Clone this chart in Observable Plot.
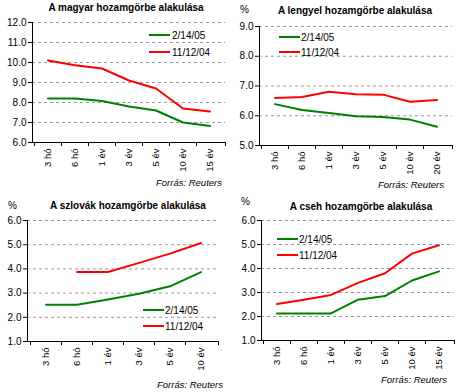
<!DOCTYPE html>
<html><head><meta charset="utf-8">
<script src="https://cdn.jsdelivr.net/npm/d3@7"></script>
<script src="https://cdn.jsdelivr.net/npm/@observablehq/plot@0.6"></script>
<style>
body{margin:0;background:#fff;}
#wrap{position:relative;width:458px;height:392px;overflow:hidden;}
.panel{position:absolute;width:229px;height:196px;}
</style></head><body><div id="wrap"></div>
<script>
// Series labels
const seriesNames = ["2/14/05", "11/12/04"];
const seriesColors = ["#008000", "#ff0000"];

// Hungary
const huTitle = "A magyar hozamgörbe alakulása";
const huCats = ["3 hó", "6 hó", "1 év", "3 év", "5 év", "10 év", "15 év"];
const hu0214 = [8.2, 8.2, 8.08, 7.8, 7.6, 7.0, 6.82];
const hu1112 = [10.1, 9.86, 9.7, 9.1, 8.7, 7.7, 7.55];
const huTicks = [6, 7, 8, 9, 10, 11, 12];

// Poland
const plTitle = "A lengyel hozamgörbe alakulása";
const plCats = ["3 hó", "6 hó", "1 év", "3 év", "5 év", "10 év", "20 év"];
const pl0214 = [6.39, 6.19, 6.09, 5.98, 5.96, 5.87, 5.63];
const pl1112 = [6.6, 6.63, 6.81, 6.72, 6.71, 6.47, 6.53];
const plTicks = [5, 6, 7, 8, 9];

// Slovakia
const skTitle = "A szlovák hozamgörbe alakulása";
const skCats = ["3 hó", "6 hó", "1 év", "3 év", "5 év", "10 év"];
const sk0214 = [2.52, 2.52, 2.74, 2.97, 3.28, 3.87];
const sk1112 = [null, 3.87, 3.87, 4.25, 4.63, 5.07];
const skTicks = [1, 2, 3, 4, 5, 6];

// Czech
const czTitle = "A cseh hozamgörbe alakulása";
const czCats = ["3 hó", "6 hó", "1 év", "3 év", "5 év", "10 év", "15 év"];
const cz0214 = [2.13, 2.13, 2.13, 2.7, 2.85, 3.5, 3.88];
const cz1112 = [2.52, 2.7, 2.9, 3.4, 3.8, 4.62, 4.97];
const czTicks = [1, 2, 3, 4, 5, 6];

const sourceText = "Forrás: Reuters";
const FONT = "Arial, 'Liberation Sans', sans-serif";

function axesMark(cats) {
  return (index, scales, values, dims) => {
    const {width, height, marginLeft, marginRight, marginTop, marginBottom} = dims;
    const x0 = marginLeft, x1 = width - marginRight, yb = height - marginBottom;
    const g = d3.create("svg:g").attr("stroke", "#000").attr("shape-rendering", "crispEdges");
    g.append("line").attr("x1", x0).attr("x2", x0).attr("y1", marginTop).attr("y2", yb);
    g.append("line").attr("x1", x0).attr("x2", x1).attr("y1", yb).attr("y2", yb);
    const bounds = cats.map(c => scales.x(c)).concat([x1]);
    for (const b of bounds) {
      g.append("line").attr("x1", b).attr("x2", b).attr("y1", yb).attr("y2", yb + 4);
    }
    return g.node();
  };
}

function panel(cfg) {
  const rows = [];
  cfg.cats.forEach((c, i) => {
    rows.push({cat: c, v: cfg.a[i], s: seriesNames[0]});
  });
  cfg.cats.forEach((c, i) => {
    rows.push({cat: c, v: cfg.b[i], s: seriesNames[1]});
  });
  const svg = Plot.plot({
    width: 229, height: 196,
    marginLeft: cfg.m[0], marginRight: cfg.m[1], marginTop: cfg.m[2], marginBottom: cfg.m[3],
    style: {fontFamily: FONT, fontSize: "10px", background: "transparent", color: "#000", overflow: "visible"},
    x: {type: "band", domain: cfg.cats, padding: 0},
    y: {domain: [cfg.ticks[0], cfg.ticks[cfg.ticks.length - 1]]},
    color: {domain: seriesNames, range: seriesColors},
    marks: [
      Plot.gridY(cfg.ticks.slice(1), {stroke: "#999", strokeOpacity: 1, strokeDasharray: "3,3"}),
      Plot.axisY({ticks: cfg.ticks, tickFormat: d3.format(".1f"), tickSize: 4, tickPadding: 2, label: null, fontSize: 10}),
      Plot.axisX({tickSize: 0, tickRotate: -90, tickPadding: 6, label: null, fontSize: 9.5}),
      axesMark(cfg.cats),
      Plot.line(rows.filter(d => d.v != null), {x: "cat", y: "v", z: "s", stroke: "s", strokeWidth: 2})
    ]
  });
  const s = d3.select(svg);
  s.append("text").attr("x", cfg.title[0]).attr("y", cfg.title[1]).attr("text-anchor", "middle")
    .attr("font-weight", "bold").attr("font-size", 10).attr("font-family", FONT).text(cfg.titleText);
  if (cfg.pct) {
    s.append("text").attr("x", cfg.pct[0]).attr("y", cfg.pct[1]).attr("font-size", 10)
      .attr("text-anchor", "start").attr("font-family", FONT).text("%");
  }
  s.append("text").attr("x", cfg.src[0]).attr("y", cfg.src[1]).attr("text-anchor", "end")
    .attr("font-style", "italic").attr("font-size", 9.5).attr("font-family", FONT).text(sourceText);
  seriesNames.forEach((n, i) => {
    const y = cfg.leg[2] + i * cfg.leg[3];
    s.append("line").attr("x1", cfg.leg[0]).attr("x2", cfg.leg[0] + 21).attr("y1", y).attr("y2", y)
      .attr("stroke", seriesColors[i]).attr("stroke-width", 2);
    s.append("text").attr("x", cfg.leg[1]).attr("y", y + 3.5).attr("font-size", 10)
      .attr("text-anchor", "start").attr("font-family", FONT).text(n);
  });
  const div = document.createElement("div");
  div.className = "panel";
  div.style.left = cfg.pos[0] + "px";
  div.style.top = cfg.pos[1] + "px";
  div.appendChild(svg);
  document.getElementById("wrap").appendChild(div);
}

panel({pos: [0, 0], cats: huCats, a: hu0214, b: hu1112, ticks: huTicks, m: [32, 4, 22, 54],
  titleText: huTitle, title: [126, 10.5], pct: null, src: [222, 185.5], leg: [149, 172, 35, 17]});
panel({pos: [229, 0], cats: plCats, a: pl0214, b: pl1112, ticks: plTicks, m: [30, 6, 26, 51],
  titleText: plTitle, title: [126, 13.5], pct: [11, 12.5], src: [215, 187.5], leg: [50, 72, 37, 15]});
panel({pos: [0, 196], cats: skCats, a: sk0214, b: sk1112, ticks: skTicks, m: [27, 11, 24, 51],
  titleText: skTitle, title: [128, 12.5], pct: [8, 12.5], src: [223, 191.5], leg: [143, 165, 114, 16]});
panel({pos: [229, 196], cats: czCats, a: cz0214, b: cz1112, ticks: czTicks, m: [32, 4, 24, 52],
  titleText: czTitle, title: [132, 13.5], pct: [12, 8.5], src: [218, 186.5], leg: [48, 70, 43, 16]});
</script></body></html>
